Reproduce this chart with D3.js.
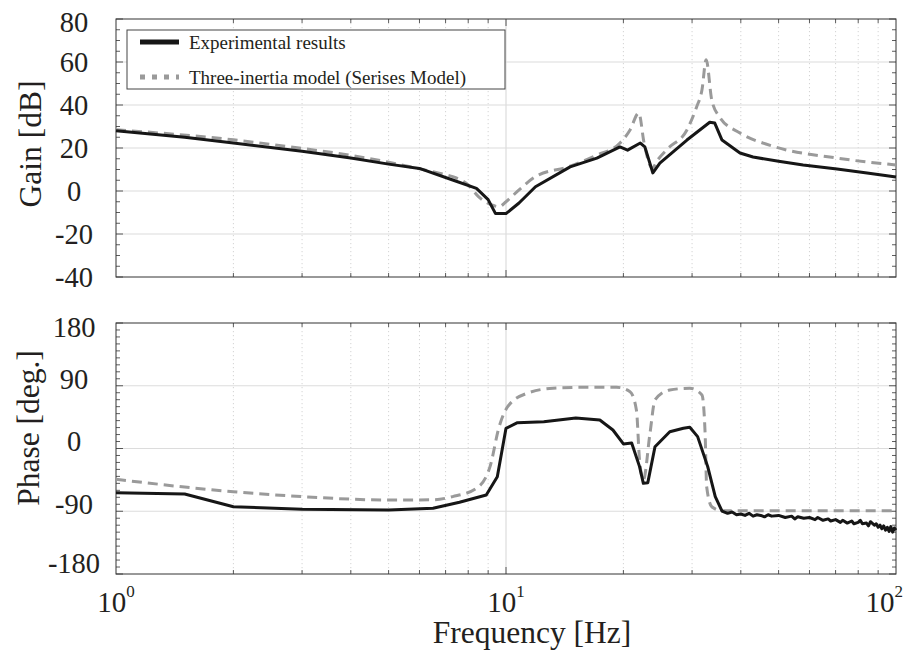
<!DOCTYPE html>
<html>
<head>
<meta charset="utf-8">
<script src="https://cdn.jsdelivr.net/npm/d3@7"></script>
<style>
  body { margin: 0; background: #fff; }
</style>
</head>
<body>
<svg id="chart" width="904" height="653"></svg>
<script>
// gain, experimental
var gainFreq = [1, 1.5, 2, 3, 4, 5, 6, 7.3, 8.4, 9.0, 9.4, 10, 10.8, 11.9, 14.6, 17.1, 19.6, 20.5, 22.1, 22.7, 23.8, 24.8, 29.1, 33.3, 34.3, 35.8, 39.8, 43, 50, 57.8, 70.6, 84.3, 100]
var gainExp = [28, 25, 22.3, 18.5, 15.3, 12.5, 10.5, 5.1, 1.2, -4, -10.5, -10.5, -5.6, 2, 11.2, 15.3, 20.5, 19, 22.3, 20.5, 8.4, 13, 23.7, 32, 31.6, 23.7, 17.7, 15.8, 13.8, 12.1, 10.2, 8.4, 6.5]

// gain, three-inertia model
var modelGainFreq = [1, 2, 3, 4, 5, 6, 7, 7.3, 8, 8.5, 9.2, 9.6, 10, 10.8, 11.9, 14.6, 17, 19.6, 20.8, 21.9, 22.6, 23.7, 24.5, 26, 29.1, 30.8, 31.8, 32.6, 33.7, 35.3, 39.8, 48, 70.6, 100]
var modelGain = [28.5, 23.8, 19.8, 16.6, 13.4, 10.3, 7.6, 6.7, 2.8, -2.6, -6.5, -7.3, -5, 0.5, 6.7, 11.5, 16.5, 22.3, 28.4, 36.3, 22.3, 10.7, 14.5, 19.7, 28.4, 39, 47, 61, 42.3, 34.4, 27, 21, 15.3, 12.1]

// phase, experimental (noisy above ~36 Hz)
var phaseFreq = [1, 1.5, 2, 3, 5, 6.5, 7.6, 8.9, 9.5, 10, 10.7, 12.5, 15.1, 17.4, 18.8, 20, 21, 22, 22.5, 23.1, 24.1, 26.3, 28.5, 29.6, 31, 32.9, 34.4, 35.8,
  37, 38, 39, 40, 41, 42, 43, 44, 45, 46, 47, 48, 50, 52, 54, 55, 56, 58, 60, 62, 63, 65, 67, 68, 70, 72, 73, 75, 77, 78, 80, 81, 82, 84, 85, 86, 88, 89, 90, 91, 92, 93, 94, 95, 96, 97, 98, 99, 100]
var phaseExp = [-63.4, -65.3, -83.5, -87.3, -88.2, -85.8, -77, -66.7, -40.4, 29, 37, 38.5, 43.8, 40.9, 26.5, 6.5, 7.9, -26, -50, -49, 2.6, 24, 29, 30.4, 17, -26, -69, -89.7,
  -93, -91, -95, -94, -96, -93, -97, -95, -96, -98, -95, -97, -96, -99, -97, -101, -98, -100, -99, -102, -99, -103, -101, -104, -102, -106, -103, -107, -104, -108, -106, -103, -108, -107, -111, -105, -110, -108, -113, -110, -115, -111, -117, -113, -119, -112, -120, -114, -117]

// phase, three-inertia model
var modelPhaseFreq = [1, 2, 3, 5, 6.5, 7.3, 8.4, 9.1, 9.6, 10.1, 11.3, 13.2, 16.1, 19.2, 20.8, 21.6, 22, 22.5, 23.4, 24.1, 26.3, 29.6, 31.8, 32.4, 32.7, 33.7, 35.8, 100]
var modelPhase = [-44.2, -62, -69, -73.9, -73.5, -69, -57, -26, 31, 60, 79, 86.4, 87.8, 87.8, 81.5, 55, -16.5, -45, 21.8, 69.6, 84, 86.4, 76.7, 21.8, -54.8, -83.5, -89.2, -89.2]

var gainTicks = [-40, -20, 0, 20, 40, 60, 80]
var phaseTicks = [-180, -90, 0, 90, 180]
var decades = [1, 10, 100]

var serif = "'Liberation Serif'"
var svg = d3.select("#chart")
var left = 116, right = 896

var x = d3.scaleLog().domain([1, 100]).range([left, right])
var yG = d3.scaleLinear().domain([-40, 80]).range([277, 19])
var yP = d3.scaleLinear().domain([-180, 180]).range([574, 323])

var minorF = []
;[1, 10].forEach(function(d) {
  for (var k = 2; k <= 9; k++) minorF.push(d * k)
})

function txt(sel) {
  return sel.append("text").attr("fill", "#231f20").style("font-family", serif)
}

function panel(y, ticks, minorStep, fx, fy, fx2, fy2, labelDy) {
  var g = svg.append("g")
  var y0 = y.range()[0], y1 = y.range()[1]

  // grid
  g.selectAll(".vgrid").data(minorF).enter().append("line")
    .attr("x1", x).attr("x2", x).attr("y1", y1).attr("y2", y0)
    .attr("stroke", "#c8c8c8").attr("stroke-width", 0.8).attr("stroke-dasharray", "1.2,2.8")
  g.append("line").attr("x1", x(10)).attr("x2", x(10)).attr("y1", y1).attr("y2", y0)
    .attr("stroke", "#dcdcdc").attr("stroke-width", 1.2)
  g.selectAll(".hgrid").data(ticks.slice(1, -1)).enter().append("line")
    .attr("x1", left).attr("x2", right).attr("y1", y).attr("y2", y)
    .attr("stroke", "#dcdcdc").attr("stroke-width", 1.2)

  // tick marks (inward, all four sides)
  var d = y.domain()
  var minorY = d3.range(d[0], d[1] + 0.001, minorStep)
  minorY.forEach(function(v) {
    var len = ticks.indexOf(v) >= 0 ? 7 : 4
    g.append("line").attr("x1", left).attr("x2", left + len).attr("y1", y(v)).attr("y2", y(v))
      .attr("stroke", "#333").attr("stroke-width", 0.8)
    g.append("line").attr("x1", right).attr("x2", right - len).attr("y1", y(v)).attr("y2", y(v))
      .attr("stroke", "#333").attr("stroke-width", 0.8)
  })
  minorF.concat([10]).forEach(function(f) {
    var len = f === 10 ? 7 : 4
    g.append("line").attr("x1", x(f)).attr("x2", x(f)).attr("y1", y0).attr("y2", y0 - len)
      .attr("stroke", "#333").attr("stroke-width", 0.8)
    g.append("line").attr("x1", x(f)).attr("x2", x(f)).attr("y1", y1).attr("y2", y1 + len)
      .attr("stroke", "#333").attr("stroke-width", 0.8)
  })

  // frame
  g.append("rect").attr("x", left).attr("y", y1).attr("width", right - left).attr("height", y0 - y1)
    .attr("fill", "none").attr("stroke", "#333").attr("stroke-width", 1)

  // y tick labels
  ticks.forEach(function(v) {
    txt(g).attr("x", 74).attr("y", y(v) + labelDy(v))
      .attr("dy", "0.35em").attr("text-anchor", "middle").attr("font-size", 28.5)
      .text(v)
  })

  var model = d3.line().x(function(p) { return x(p[0]) }).y(function(p) { return y(p[1]) }).curve(d3.curveMonotoneX)
  var exp = d3.line().x(function(p) { return x(p[0]) }).y(function(p) { return y(p[1]) })

  g.append("path").datum(d3.zip(fx2, fy2)).attr("d", model)
    .attr("fill", "none").attr("stroke", "#9a9a9a").attr("stroke-width", 3).attr("stroke-dasharray", "10,6")
  g.append("path").datum(d3.zip(fx, fy)).attr("d", exp)
    .attr("fill", "none").attr("stroke", "#161616").attr("stroke-width", 3).attr("stroke-linejoin", "round")
  return g
}

panel(yG, gainTicks, 5, gainFreq, gainExp, modelGainFreq, modelGain,
  function(v) { return v === 80 ? 3 : 0 })
panel(yP, phaseTicks, 10, phaseFreq, phaseExp, modelPhaseFreq, modelPhase,
  function(v) { return v === 180 ? 4 : v === -180 ? -11 : -7 })

// axis labels
txt(svg).attr("transform", "translate(30,144) rotate(-90)")
  .attr("dy", "0.35em").attr("text-anchor", "middle").attr("font-size", 31.5).text("Gain [dB]")
txt(svg).attr("transform", "translate(28,428) rotate(-90)")
  .attr("dy", "0.35em").attr("text-anchor", "middle").attr("font-size", 31.5).text("Phase [deg.]")
txt(svg).attr("x", 532).attr("y", 643).attr("text-anchor", "middle")
  .attr("font-size", 31.5).text("Frequency [Hz]")

// decade labels 10^n (last one kept inside the page)
decades.forEach(function(f, i) {
  var last = i === decades.length - 1
  var t = txt(svg).attr("x", last ? 903 : x(f)).attr("y", 612)
    .attr("text-anchor", last ? "end" : "middle").attr("font-size", 29)
  t.append("tspan").text("10")
  t.append("tspan").attr("dy", -15).attr("font-size", 17).text(i)
})

// legend
var lg = svg.append("g")
lg.append("rect").attr("x", 127).attr("y", 30).attr("width", 378).attr("height", 59)
  .attr("fill", "#fff").attr("stroke", "#444").attr("stroke-width", 1)
lg.append("line").attr("x1", 140).attr("x2", 179).attr("y1", 42).attr("y2", 42)
  .attr("stroke", "#161616").attr("stroke-width", 5)
lg.append("line").attr("x1", 140).attr("x2", 179).attr("y1", 77).attr("y2", 77)
  .attr("stroke", "#9a9a9a").attr("stroke-width", 5).attr("stroke-dasharray", "5,7")
txt(lg).attr("x", 189).attr("y", 42).attr("dy", "0.35em").attr("font-size", 19).text("Experimental results")
txt(lg).attr("x", 189).attr("y", 77).attr("dy", "0.35em").attr("font-size", 19).text("Three-inertia model (Serises Model)")
</script>
</body>
</html>
